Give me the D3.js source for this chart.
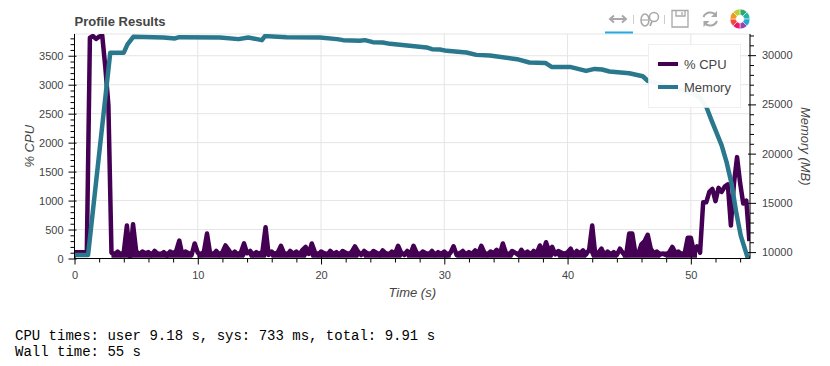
<!DOCTYPE html>
<html><head><meta charset="utf-8">
<script src="https://cdn.jsdelivr.net/npm/d3@7/dist/d3.min.js"></script>
<style>html,body{margin:0;padding:0;background:#fff}svg{display:block}text{font-family:"Liberation Sans",Arial,sans-serif}</style>
</head><body><svg id="c" width="830" height="366"></svg>
<script>
const chartTitle = "Profile Results";
const xLabel = "Time (s)", yLeftLabel = "% CPU", yRightLabel = "Memory (MB)";
const seriesNames = ["% CPU", "Memory"];
const seriesColors = ["#440154", "#2A788E"];
const xTicks = [0,10,20,30,40,50];
const cpuTicks = [0,500,1000,1500,2000,2500,3000,3500];
const memTicks = [10000,15000,20000,25000,30000];
const outputLines = ["CPU times: user 9.18 s, sys: 733 ms, total: 9.91 s","Wall time: 55 s"];
const cpuStep = 0.25;
const cpuValues = [
110,110,110,110, 110,3810,3840,3790, 3830,3850,3300,2650,
100,70,120,60, 110,570,40,590, 130,70,120,90, 110,60,130,80, 70,110,50,120,
90,130,310,60, 120,90,60,260, 100,60,120,430, 90,70,130,60, 110,225,150,70,
120,60,110,260, 90,130,60,110, 80,120,540,60, 120,70,110,220, 90,60,130,80,
120,70,150,200, 80,260,110,60, 120,90,60,130, 80,110,60,130, 100,70,120,210,
120,60,130,90, 70,130,100,60, 140,90,60,120, 80,220,100,60, 130,70,220,100,
60,120,90,70, 130,60,110,80, 120,60,100,210, 60,90,130,70, 110,80,140,90,
220,100,60,120, 90,150,70,260, 90,60,130,100, 60,150,80,120, 70,130,90,225,
100,280,130,200, 70,130,100,80, 110,170,60,130, 90,140,70,150, 570,60,100,170,
60,120,70,110, 60,170,90,60, 430,430,90,90, 250,300,410,170, 90,120,70,80,
60,110,200,100, 120,70,90,360, 360,120,210,100,
970,970,1150,1200, 990,1220,1150,1240, 1280,570,1300,1750, 1300,950,1000,300
];
// in the dense stretch the samples overlap into a solid band; these times show the band's white gaps
const cpuBandFloor = 15, cpuBandTop = 120;
const cpuBandStart = 3, cpuBandEnd = 50.5;
const cpuGapTimes = [9.75,14,15.75,19,23.25,26.75,30.75,35.75,39,41.75,44.25,47.75];
const memTimes = [0,1.1,2.9,4.0,4.3,4.77,7.2,8.15,8.5,11.8,13.3,14.1,15.2,15.45,17.2,19.9,21.3,21.8,23.15,23.56,24.2,25,25.6,28.56,29,29.64,30.2,31.8,32.6,33.7,35.9,36.9,38.2,38.7,40.2,41.5,42.2,42.8,43.4,45,46.1,46.5,49.9,50.73,51.27,51.68,52.5,52.9,53.3,53.7,54.05,54.6,54.8];
const memValues = [9700,9700,30250,30250,31100,31863,31802,31700,31832,31802,31629,31802,31527,31934,31832,31802,31629,31527,31456,31527,31323,31293,31150,30784,30611,30580,30438,30275,30030,29970,29593,29257,29216,28809,28809,28402,28605,28544,28340,28168,27862,27400,26233,25724,24706,23383,20838,19138,16970,13916,11676,9467,9400];

const L = 74.5, R = 750, T = 34, B = 258.5;
const x = d3.scaleLinear().domain([0,54.8]).range([L,R]);
const yCpu = d3.scaleLinear().domain([0,3875]).range([B,T]);
const yMem = d3.scaleLinear().domain([9350,32150]).range([B,T]);
const svg = d3.select("#c");
const textCol = "#444", gridCol = "#e5e5e5";

svg.append("defs").append("clipPath").attr("id","frame").append("rect").attr("x",L).attr("y",T).attr("width",R-L).attr("height",B-T);

svg.append("text").attr("x",L).attr("y",26).attr("font-size",13).attr("font-weight","bold").attr("fill",textCol).text(chartTitle);

const grid = svg.append("g");
grid.append("rect").attr("x",L).attr("y",T).attr("width",R-L).attr("height",B-T).attr("fill","none").attr("stroke",gridCol);
grid.selectAll(".gx").data(xTicks.slice(1)).join("line").attr("x1",d=>x(d)).attr("x2",d=>x(d)).attr("y1",T).attr("y2",B).attr("stroke",gridCol);
grid.selectAll(".gy").data(cpuTicks.slice(1)).join("line").attr("x1",L).attr("x2",R).attr("y1",d=>yCpu(d)).attr("y2",d=>yCpu(d)).attr("stroke",gridCol);

const plot = svg.append("g").attr("clip-path","url(#frame)");
const tAt = i => i*cpuStep;
const isGap = i => cpuGapTimes.includes(tAt(i));
const cpuArea = d3.area().defined((d,i)=>tAt(i)>=cpuBandStart && tAt(i)<=cpuBandEnd)
  .x((d,i)=>x(tAt(i))).y1(d=>yCpu(Math.max(d,cpuBandTop)))
  .y0((d,i)=>yCpu(isGap(i) ? Math.max(d,cpuBandTop)-20 : cpuBandFloor));
plot.append("path").datum(cpuValues).attr("d",cpuArea).attr("fill",seriesColors[0]);
const cpuLine = d3.line().x((d,i)=>x(tAt(i))).y(d=>yCpu(d));
plot.append("path").datum(cpuValues).attr("d",cpuLine).attr("fill","none").attr("stroke",seriesColors[0]).attr("stroke-width",4.5).attr("stroke-linejoin","round");
const memLine = d3.line().x((d,i)=>x(memTimes[i])).y(d=>yMem(d));
plot.append("path").datum(memValues).attr("d",memLine).attr("fill","none").attr("stroke",seriesColors[1]).attr("stroke-width",4.5).attr("stroke-linejoin","round");

function style(g, tickIn, horizontal, sign){
  g.select(".domain").remove();
  g.selectAll("text").attr("fill",textCol).style("font-size","11px").style("font-family",'"Liberation Sans",Arial,sans-serif');
  g.selectAll("line").attr("stroke","#000");
  if(tickIn) g.selectAll("line").attr(horizontal?"y1":"x1",sign*tickIn);
}
const xMinor = d3.range(0,55,2).filter(d=>d%10);
const cpuMinor = d3.range(0,3875,100).filter(d=>d%500);
const memMinor = d3.range(10000,32150,1000).filter(d=>d%5000);

const ax = svg.append("g").attr("transform",`translate(0,${B})`);
ax.call(d3.axisBottom(x).tickValues(xTicks).tickSize(6).tickPadding(7).tickFormat(d3.format("d")));
style(ax,2,true,-1);
const axm = svg.append("g").attr("transform",`translate(0,${B})`);
axm.call(d3.axisBottom(x).tickValues(xMinor).tickSize(4).tickFormat(""));
style(axm);

const al = svg.append("g").attr("transform",`translate(${L},0)`);
al.call(d3.axisLeft(yCpu).tickValues(cpuTicks).tickSize(6).tickPadding(5).tickFormat(d3.format("d")));
style(al,2,false,1);
const alm = svg.append("g").attr("transform",`translate(${L},0)`);
alm.call(d3.axisLeft(yCpu).tickValues(cpuMinor).tickSize(4).tickFormat(""));
style(alm);

const ar = svg.append("g").attr("transform",`translate(${R},0)`);
ar.call(d3.axisRight(yMem).tickValues(memTicks).tickSize(6).tickPadding(6).tickFormat(d3.format("d")));
style(ar,2,false,-1);
const arm = svg.append("g").attr("transform",`translate(${R},0)`);
arm.call(d3.axisRight(yMem).tickValues(memMinor).tickSize(4).tickFormat(""));
style(arm);

svg.append("g").selectAll("line").data([[L,T,L,B],[R,T,R,B],[L,B,R,B]]).join("line")
  .attr("x1",d=>d[0]).attr("y1",d=>d[1]).attr("x2",d=>d[2]).attr("y2",d=>d[3]).attr("stroke","#000");

const labSize = 13;
svg.append("text").attr("x",(L+R)/2).attr("y",297).attr("text-anchor","middle").attr("font-size",labSize).attr("font-style","italic").attr("fill",textCol).text(xLabel);
svg.append("text").attr("transform",`translate(34,${(T+B)/2}) rotate(-90)`).attr("text-anchor","middle").attr("font-size",labSize).attr("font-style","italic").attr("fill",textCol).text(yLeftLabel);
svg.append("text").attr("transform",`translate(801,${(T+B)/2}) rotate(90)`).attr("text-anchor","middle").attr("font-size",labSize).attr("font-style","italic").attr("fill",textCol).text(yRightLabel);

const lg = svg.append("g");
lg.append("rect").attr("x",648.5).attr("y",44.5).attr("width",92).attr("height",63).attr("fill","#fff").attr("fill-opacity",0.95).attr("stroke","#e5e5e5").attr("stroke-opacity",0.6);
seriesNames.forEach((n,i)=>{
  const yy = 64 + i*23;
  lg.append("line").attr("x1",658).attr("x2",678).attr("y1",yy).attr("y2",yy).attr("stroke",seriesColors[i]).attr("stroke-width",4);
  lg.append("text").attr("x",684).attr("y",yy+4.5).attr("font-size",13).attr("fill",textCol).text(n);
});

const tb = svg.append("g");
const grey = "#a8a8a8";
tb.append("rect").attr("x",605).attr("y",31.5).attr("width",28).attr("height",2).attr("fill","#26aae1");
tb.append("path").attr("d","M610 19H626M614 15.5L610 19L614 22.5M622 15.5L626 19L622 22.5").attr("fill","none").attr("stroke",grey).attr("stroke-width",2);
tb.selectAll(".sep").data([633.5,664.5]).join("line").attr("x1",d=>d).attr("x2",d=>d).attr("y1",15).attr("y2",24).attr("stroke","#ccc");
tb.append("ellipse").attr("cx",645).attr("cy",20).attr("rx",4).attr("ry",6).attr("fill","none").attr("stroke",grey).attr("stroke-width",1.5);
tb.append("path").attr("d","M641 20H649").attr("stroke",grey).attr("stroke-width",1.2);
tb.append("circle").attr("cx",654).attr("cy",17).attr("r",4.5).attr("fill","none").attr("stroke",grey).attr("stroke-width",1.5);
tb.append("path").attr("d","M652 21.5L650 26").attr("stroke",grey).attr("stroke-width",1.8);
tb.append("path").attr("d","M672 10.5H688V27H672ZM676 10.5V16H685V10.5M682 12V15").attr("fill","none").attr("stroke",grey).attr("stroke-width",1.3);
tb.append("path").attr("d","M703.5 17A7.5 7.5 0 0 1 716 15M717 21A7.5 7.5 0 0 1 704.5 23").attr("fill","none").attr("stroke",grey).attr("stroke-width",2);
tb.append("path").attr("d","M717 11V17H711ZM703.5 27V21H709.5Z").attr("fill",grey);
const logoColors = ["#2fa66a","#1fb5a8","#23a7d8","#9c3fa8","#e8196a","#f0483e","#f7941d","#b5d334"];
const arc = d3.arc().innerRadius(4).outerRadius(10);
const pie = d3.pie().value(1).sort(null);
tb.append("g").attr("transform","translate(740,19)").selectAll("path").data(pie(logoColors)).join("path")
  .attr("d",arc).attr("fill",d=>d.data).attr("stroke","#fff").attr("stroke-width",0.5);

svg.selectAll(".out").data(outputLines).join("text").attr("x",15).attr("y",(d,i)=>339.5+i*16.5)
  .attr("font-size",14).style("font-family",'"Liberation Mono",monospace').attr("fill","#000").text(d=>d);
</script></body></html>
